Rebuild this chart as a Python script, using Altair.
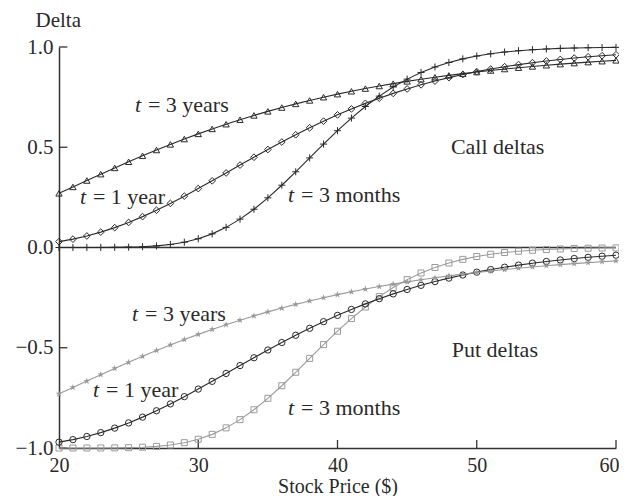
import altair as alt
import pandas as pd

prices = list(range(20, 61))

call_3m = [0.0000,0.0000,0.0001,0.0002,0.0007,0.0017,0.0039,0.0079,0.0150,0.0265,0.0437,0.0680,0.1004,0.1414,0.1908,0.2477,0.3106,0.3777,0.4469,0.5158,0.5825,0.6454,0.7032,0.7551,0.8006,0.8398,0.8729,0.9003,0.9227,0.9408,0.9550,0.9662,0.9749,0.9814,0.9864,0.9901,0.9929,0.9949,0.9964,0.9974,0.9982]
call_1y = [0.0291,0.0417,0.0575,0.0767,0.0992,0.1251,0.1540,0.1858,0.2200,0.2561,0.2938,0.3325,0.3718,0.4111,0.4502,0.4887,0.5261,0.5623,0.5970,0.6302,0.6615,0.6911,0.7188,0.7446,0.7686,0.7908,0.8113,0.8300,0.8472,0.8628,0.8771,0.8900,0.9017,0.9122,0.9218,0.9303,0.9380,0.9449,0.9511,0.9566,0.9615]
call_3y = [0.2702,0.3021,0.3340,0.3657,0.3969,0.4275,0.4573,0.4862,0.5141,0.5409,0.5667,0.5914,0.6150,0.6374,0.6587,0.6789,0.6981,0.7162,0.7334,0.7495,0.7648,0.7791,0.7926,0.8053,0.8173,0.8285,0.8391,0.8490,0.8583,0.8670,0.8751,0.8828,0.8900,0.8968,0.9031,0.9090,0.9145,0.9197,0.9246,0.9292,0.9334]
put_3m = [-1.0000,-1.0000,-0.9999,-0.9998,-0.9993,-0.9983,-0.9961,-0.9921,-0.9850,-0.9735,-0.9563,-0.9320,-0.8996,-0.8586,-0.8092,-0.7523,-0.6894,-0.6223,-0.5531,-0.4842,-0.4175,-0.3546,-0.2968,-0.2449,-0.1994,-0.1602,-0.1271,-0.0997,-0.0773,-0.0592,-0.0450,-0.0338,-0.0251,-0.0186,-0.0136,-0.0099,-0.0071,-0.0051,-0.0036,-0.0026,-0.0018]
put_1y = [-0.9709,-0.9583,-0.9425,-0.9233,-0.9008,-0.8749,-0.8460,-0.8142,-0.7800,-0.7439,-0.7062,-0.6675,-0.6282,-0.5889,-0.5498,-0.5113,-0.4739,-0.4377,-0.4030,-0.3698,-0.3385,-0.3089,-0.2812,-0.2554,-0.2314,-0.2092,-0.1887,-0.1700,-0.1528,-0.1372,-0.1229,-0.1100,-0.0983,-0.0878,-0.0782,-0.0697,-0.0620,-0.0551,-0.0489,-0.0434,-0.0385]
put_3y = [-0.7298,-0.6979,-0.6660,-0.6343,-0.6031,-0.5725,-0.5427,-0.5138,-0.4859,-0.4591,-0.4333,-0.4086,-0.3850,-0.3626,-0.3413,-0.3211,-0.3019,-0.2838,-0.2666,-0.2505,-0.2352,-0.2209,-0.2074,-0.1947,-0.1827,-0.1715,-0.1609,-0.1510,-0.1417,-0.1330,-0.1249,-0.1172,-0.1100,-0.1032,-0.0969,-0.0910,-0.0855,-0.0803,-0.0754,-0.0708,-0.0666]

# annotation labels (data coordinates)
ann_x = [25.45, 21.5, 36.45, 25.25, 22.45, 36.45]
ann_y = [0.71, 0.25, 0.262, -0.33, -0.71, -0.80]
ann_rest = ["= 3 years", "= 1 year", "= 3 months", "= 3 years", "= 1 year", "= 3 months"]
sec_x = [51.5, 51.3]
sec_y = [0.50, -0.51]
sec_text = ["Call deltas", "Put deltas"]

x_ticks = [30, 40, 50, 60]
y_ticks = [-1.0, -0.5, 0.5, 1.0]

FONT = "Liberation Serif"
DARK = "#2a2a2a"
GRAY = "#9a9a9a"

PLUS = "M-1,0L1,0M0,-1L0,1"
STAR = "M0,-1L0.2245,-0.309L0.951,-0.309L0.363,0.118L0.588,0.809L0,0.382L-0.588,0.809L-0.363,0.118L-0.951,-0.309L-0.2245,-0.309Z"

series = [
    (call_3m, DARK, PLUS, False, 50),
    (call_1y, DARK, "diamond", False, 45),
    (call_3y, DARK, "triangle-up", False, 40),
    (put_3m, GRAY, "square", False, 36),
    (put_1y, DARK, "circle", False, 40),
    (put_3y, GRAY, STAR, True, 50),
]

xs = alt.Scale(domain=[20, 60], nice=False, zero=False)
ys = alt.Scale(domain=[-1, 1], nice=False, zero=False)

x_axis = alt.Axis(values=[20, 30, 40, 50, 60], ticks=False, tickSize=0, grid=False,
                  labelFlush=False,
                  labelAlign={"condition": {"test": "datum.value >= 60", "value": "right"},
                              "value": "center"},
                  labelOffset={"condition": {"test": "datum.value >= 60", "value": 3},
                               "value": 0},
                  labelFont=FONT, labelFontSize=20, labelColor=DARK, labelPadding=7,
                  domainColor="#333", domainWidth=1.5,
                  title="Stock Price ($)", titleFont=FONT, titleFontSize=20,
                  titleFontWeight="normal", titleColor=DARK, titleY=38, titleBaseline="middle")
y_axis = alt.Axis(values=[-1, -0.5, 0, 0.5, 1], ticks=False, tickSize=0, grid=False,
                  labelFlush=False,
                  labelExpr="replace(format(datum.value, '.1f'), '-', '\u2013')",
                  labelFont=FONT, labelFontSize=21, labelColor=DARK, labelPadding=6,
                  domainColor="#333", domainWidth=1.5,
                  title="Delta", titleFont=FONT, titleFontSize=21, titleFontWeight="normal",
                  titleColor=DARK, titleAngle=0, titleX=-24, titleY=-27,
                  titleAlign="left", titleBaseline="middle")

layers = []

# zero line
zero_df = pd.DataFrame({"x": [20], "x2": [60], "y": [0]})
layers.append(alt.Chart(zero_df).mark_rule(color="#333", strokeWidth=1.5).encode(
    x=alt.X("x:Q", scale=xs, axis=x_axis), x2="x2:Q", y=alt.Y("y:Q", scale=ys, axis=y_axis)))

# inward ticks
xt_df = pd.DataFrame({"x": x_ticks, "y": [-1.0] * len(x_ticks), "y2": [-0.96] * len(x_ticks)})
layers.append(alt.Chart(xt_df).mark_rule(color="#333", strokeWidth=1.3).encode(
    x=alt.X("x:Q", scale=xs), y=alt.Y("y:Q", scale=ys), y2="y2:Q"))
yt_df = pd.DataFrame({"y": y_ticks, "x": [20] * len(y_ticks), "x2": [20.6] * len(y_ticks)})
layers.append(alt.Chart(yt_df).mark_rule(color="#333", strokeWidth=1.3).encode(
    x=alt.X("x:Q", scale=xs), x2="x2:Q", y=alt.Y("y:Q", scale=ys)))

for vals, col, shape, filled, size in series:
    df = pd.DataFrame({"S": prices, "D": vals})
    base = alt.Chart(df).encode(x=alt.X("S:Q", scale=xs), y=alt.Y("D:Q", scale=ys))
    layers.append(base.mark_line(color=col, strokeWidth=1.1))
    layers.append(base.mark_point(shape=shape, size=size, filled=filled, color=col,
                                  strokeWidth=1.0, opacity=1))

ann_df = pd.DataFrame({"x": ann_x, "y": ann_y, "rest": ann_rest})
layers.append(alt.Chart(ann_df).mark_text(text="t", font=FONT, fontSize=22, fontStyle="italic",
                                          align="left", baseline="middle", color=DARK).encode(
    x=alt.X("x:Q", scale=xs), y=alt.Y("y:Q", scale=ys)))
layers.append(alt.Chart(ann_df).mark_text(font=FONT, fontSize=22, align="left",
                                          baseline="middle", color=DARK, dx=13).encode(
    x=alt.X("x:Q", scale=xs), y=alt.Y("y:Q", scale=ys), text="rest:N"))

sec_df = pd.DataFrame({"x": sec_x, "y": sec_y, "t": sec_text})
layers.append(alt.Chart(sec_df).mark_text(font=FONT, fontSize=22, align="center",
                                          baseline="middle", color=DARK).encode(
    x=alt.X("x:Q", scale=xs), y=alt.Y("y:Q", scale=ys), text="t:N"))

chart = alt.layer(*layers).properties(
    width=557, height=401,
    autosize=alt.AutoSizeParams(type="none"),
    padding={"left": 51, "top": 39, "right": 3, "bottom": 48},
    background="white",
).configure_view(stroke=None)

chart.save("out.html", embed_options={"renderer": "svg", "actions": False})
